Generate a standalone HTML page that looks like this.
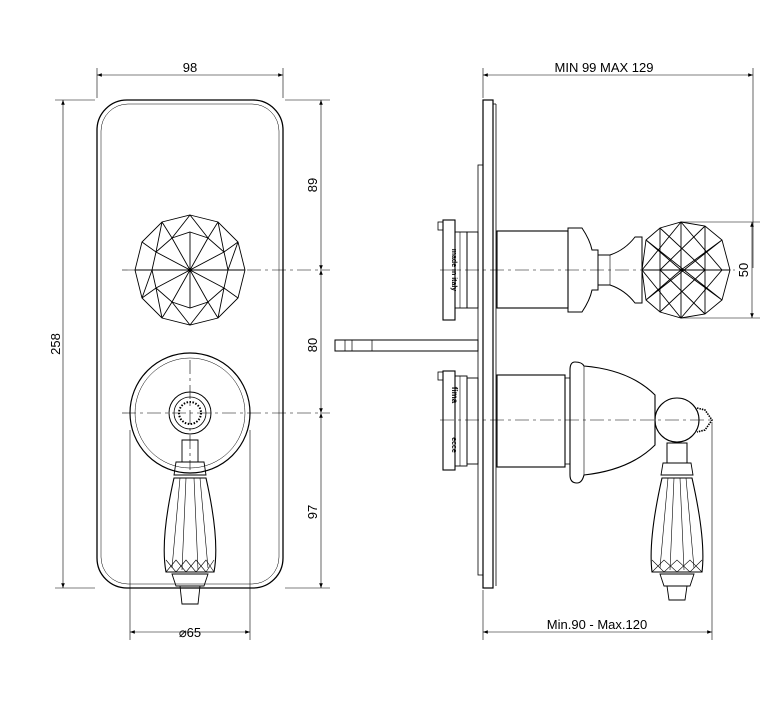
<!DOCTYPE html>
<html><head><meta charset="utf-8"><style>html,body{margin:0;padding:0;background:#fff}svg{display:block}</style></head>
<body>
<svg width="779" height="702" viewBox="0 0 779 702" xmlns="http://www.w3.org/2000/svg" font-family="Liberation Sans, sans-serif" font-size="13" fill="none" stroke="#000" stroke-width="1">
<defs>
<marker id="a" markerWidth="8" markerHeight="6" refX="8" refY="3" orient="auto-start-reverse"><path d="M0,0 L8,3 L0,6" fill="#000" stroke="none"/></marker>
</defs>
<!-- FRONT VIEW -->
<rect x="97" y="100" width="186" height="488" rx="30" stroke-width="1.3"/>
<rect x="101" y="104" width="178" height="480" rx="27" stroke-width="0.5"/>
<!-- top dim 98 -->
<line x1="97" y1="68" x2="97" y2="98" stroke-width="0.6"/><line x1="283" y1="68" x2="283" y2="98" stroke-width="0.6"/>
<line x1="97" y1="75" x2="283" y2="75" stroke-width="0.6" marker-start="url(#a)" marker-end="url(#a)"/>
<text x="190" y="72" fill="#000" stroke="none" text-anchor="middle">98</text>
<!-- left dim 258 -->
<line x1="55" y1="100" x2="95" y2="100" stroke-width="0.6"/><line x1="55" y1="588" x2="95" y2="588" stroke-width="0.6"/>
<line x1="63" y1="100" x2="63" y2="588" stroke-width="0.6" marker-start="url(#a)" marker-end="url(#a)"/>
<text x="0" y="0" fill="#000" stroke="none" text-anchor="middle" transform="translate(60,344) rotate(-90)">258</text>
<!-- right dims -->
<line x1="285" y1="100" x2="330" y2="100" stroke-width="0.6"/><line x1="285" y1="588" x2="330" y2="588" stroke-width="0.6"/>
<line x1="321" y1="100" x2="321" y2="270" stroke-width="0.6" marker-start="url(#a)" marker-end="url(#a)"/>
<line x1="321" y1="270" x2="321" y2="413" stroke-width="0.6" marker-start="url(#a)" marker-end="url(#a)"/>
<line x1="321" y1="413" x2="321" y2="588" stroke-width="0.6" marker-start="url(#a)" marker-end="url(#a)"/>
<text fill="#000" stroke="none" text-anchor="middle" transform="translate(317,185) rotate(-90)">89</text>
<text fill="#000" stroke="none" text-anchor="middle" transform="translate(317,345) rotate(-90)">80</text>
<text fill="#000" stroke="none" text-anchor="middle" transform="translate(317,512) rotate(-90)">97</text>
<!-- centerlines -->
<line x1="122" y1="270" x2="330" y2="270" stroke-width="0.6" stroke-dasharray="14,4,3,4"/>
<line x1="122" y1="413" x2="330" y2="413" stroke-width="0.6" stroke-dasharray="14,4,3,4"/>
<line x1="190" y1="360" x2="190" y2="470" stroke-width="0.6" stroke-dasharray="14,4,3,4"/>
<!-- top knob -->
<g stroke-width="0.9">
<polygon points="190,215 218,222 238,242 245,270 238,298 218,318 190,325 162,318 142,298 135,270 142,242 162,222"/>
<polygon points="190,232 208,238 224,252 228,270 224,288 208,302 190,308 172,302 156,288 152,270 156,252 172,238"/>
<path d="M190,215 L208,238 L218,222 M218,222 L224,252 L238,242 M238,242 L228,270 L245,270 M238,298 L224,288 L218,318 M218,318 L208,302 L190,325 M190,325 L172,302 L162,318 M162,318 L156,288 L142,298 M142,298 L152,270 L135,270 M142,242 L156,252 L162,222 M162,222 L172,238 L190,215"/>
<path d="M190,232 L190,308 M152,270 L228,270 M172,238 L208,302 M208,238 L172,302 M156,252 L224,288 M224,252 L156,288"/>
</g>
<!-- lower rosette -->
<circle cx="190" cy="413" r="60" stroke-width="1.2"/>
<circle cx="190" cy="413" r="55" stroke-width="0.5"/>
<circle cx="190" cy="413" r="21" stroke-width="1"/>
<circle cx="190" cy="413" r="16" stroke-width="0.8"/>
<circle cx="190" cy="413" r="11" stroke-width="2" stroke-dasharray="1.5,1.5"/>
<!-- lever -->
<path d="M182,440 L182,462 L198,462 L198,440 Z" stroke-width="0.9"/>
<path d="M176,462 L204,462 L206,475 L174,475 Z" stroke-width="0.9"/>
<path d="M174,478 Q160,540 166,572 L214,572 Q220,540 206,478 Z" stroke-width="1.1"/>
<path d="M180,478 L172,568 M186,478 L182,570 M194,478 L198,570 M200,478 L208,568" stroke-width="0.6"/>
<path d="M166,560 L176,572 L186,560 L196,572 L206,560 L214,572 M166,572 L176,560 L186,572 L196,560 L206,572 L214,560" stroke-width="0.6"/>
<path d="M172,574 L208,574 L204,586 L176,586 Z M180,586 L200,586 L198,604 L182,604 Z" stroke-width="0.9"/>
<!-- bottom Ø65 -->
<line x1="130" y1="430" x2="130" y2="640" stroke-width="0.6"/><line x1="250" y1="430" x2="250" y2="640" stroke-width="0.6"/>
<line x1="130" y1="632" x2="250" y2="632" stroke-width="0.6" marker-start="url(#a)" marker-end="url(#a)"/>
<text x="190" y="637" fill="#000" stroke="none" text-anchor="middle">⌀65</text>

<!-- SIDE VIEW -->
<rect x="483" y="100" width="10" height="488" stroke-width="1.2"/>
<line x1="493" y1="104" x2="496" y2="104" stroke-width="0.8"/><line x1="496" y1="104" x2="496" y2="586" stroke-width="0.8"/>
<rect x="478" y="165" width="5" height="410" stroke-width="0.8"/>
<!-- top dim -->
<line x1="483" y1="68" x2="483" y2="98" stroke-width="0.6"/><line x1="753" y1="68" x2="753" y2="268" stroke-width="0.6"/>
<line x1="483" y1="75" x2="753" y2="75" stroke-width="0.6" marker-start="url(#a)" marker-end="url(#a)"/>
<text x="604" y="72" fill="#000" stroke="none" text-anchor="middle">MIN 99 MAX 129</text>
<!-- bottom dim -->
<line x1="483" y1="590" x2="483" y2="640" stroke-width="0.6"/><line x1="712" y1="422" x2="712" y2="640" stroke-width="0.6"/>
<line x1="483" y1="632" x2="712" y2="632" stroke-width="0.6" marker-start="url(#a)" marker-end="url(#a)"/>
<text x="597" y="629" fill="#000" stroke="none" text-anchor="middle">Min.90 - Max.120</text>
<!-- 50 dim -->
<line x1="681" y1="222" x2="760" y2="222" stroke-width="0.6"/><line x1="681" y1="318" x2="760" y2="318" stroke-width="0.6"/>
<line x1="752" y1="222" x2="752" y2="318" stroke-width="0.6" marker-start="url(#a)" marker-end="url(#a)"/>
<text fill="#000" stroke="none" text-anchor="middle" transform="translate(748,270) rotate(-90)">50</text>
<!-- centerlines -->
<line x1="440" y1="270" x2="735" y2="270" stroke-width="0.6" stroke-dasharray="14,4,3,4"/>
<line x1="440" y1="420" x2="715" y2="420" stroke-width="0.6" stroke-dasharray="14,4,3,4"/>
<!-- upper unit -->
<rect x="443" y="220" width="12" height="100" stroke-width="1.1"/>
<rect x="438" y="222" width="5" height="8" stroke-width="0.8"/>
<rect x="455" y="232" width="12" height="76" stroke-width="0.9"/>
<line x1="460" y1="232" x2="460" y2="308" stroke-width="0.6"/>
<rect x="467" y="232" width="11" height="76" stroke-width="0.9"/>
<text fill="#000" stroke="none" font-size="7" font-weight="bold" text-anchor="middle" transform="translate(452,270) rotate(90)">made in italy</text>
<rect x="497" y="231" width="71" height="77" stroke-width="1.1"/>
<path d="M568,228 L582,228 Q590,240 592,250 L598,250 L598,290 L592,290 Q590,300 582,312 L568,312 Z" stroke-width="1"/>
<path d="M598,255 L610,255 Q625,250 635,237 L642,237 L642,303 L635,303 Q625,290 610,285 L598,285" stroke-width="1"/>
<line x1="610" y1="255" x2="610" y2="285" stroke-width="0.6"/>
<g stroke-width="0.9">
<path d="M681,222 L705,226 L722,240 L730,270 L722,300 L705,314 L681,318 L660,312 L646,300 L642,270 L646,240 L660,228 Z"/>
<path d="M681,222 L681,318 M660,228 L660,312 M705,226 L705,314 M642,270 L730,270"/>
<path d="M646,240 L681,270 L646,300 M722,240 L681,270 L722,300 M660,228 L705,270 L660,312 M705,226 L660,270 L705,314 M681,222 L722,270 L681,318 M681,222 L642,270 L681,318 M646,240 L722,300 M722,240 L646,300"/>
</g>
<!-- stem -->
<rect x="335" y="340" width="143" height="11" stroke-width="1"/>
<line x1="345" y1="340" x2="345" y2="351" stroke-width="0.7"/><line x1="352" y1="340" x2="352" y2="351" stroke-width="0.7"/><line x1="372" y1="340" x2="372" y2="351" stroke-width="0.7"/>
<!-- lower unit -->
<rect x="443" y="371" width="12" height="99" stroke-width="1.1"/>
<rect x="438" y="372" width="5" height="8" stroke-width="0.8"/>
<rect x="455" y="376" width="12" height="90" stroke-width="0.9"/>
<line x1="460" y1="376" x2="460" y2="466" stroke-width="0.6"/>
<rect x="467" y="378" width="11" height="86" stroke-width="0.9"/>
<text fill="#000" stroke="none" font-size="8" font-weight="bold" text-anchor="middle" transform="translate(452,395) rotate(90)">fima</text>
<text fill="#000" stroke="none" font-size="7" font-weight="bold" text-anchor="middle" transform="translate(452,445) rotate(90)">ecce</text>
<rect x="497" y="375" width="68" height="92" stroke-width="1.1"/>
<rect x="565" y="378" width="5" height="86" stroke-width="0.8"/>
<path d="M575,362 Q570,362 570,370 L570,475 Q570,483 577,483 Q582,483 584,475 Q630,470 655,445 L655,395 Q630,370 584,366 Q582,362 575,362 Z" stroke-width="1.1"/>
<line x1="584" y1="366" x2="584" y2="475" stroke-width="0.6"/>
<circle cx="677" cy="420" r="22" stroke-width="1.1"/>
<path d="M697,408 L705,410 L712,420 L705,430 L697,432" stroke-width="1.6" stroke-dasharray="1.5,1"/>
<rect x="667" y="443" width="20" height="20" stroke-width="1"/>
<path d="M663,463 L691,463 L693,475 L661,475 Z" stroke-width="0.9"/>
<path d="M662,478 Q648,540 652,572 L702,572 Q706,540 692,478 Z" stroke-width="1.1"/>
<path d="M668,478 L660,568 M674,478 L670,570 M680,478 L684,570 M686,478 L694,568" stroke-width="0.6"/>
<path d="M652,560 L664,572 L677,560 L690,572 L702,560 M652,572 L664,560 L677,572 L690,560 L702,572" stroke-width="0.6"/>
<path d="M660,574 L694,574 L690,586 L664,586 Z M667,586 L687,586 L685,600 L669,600 Z" stroke-width="0.9"/>
</svg>
</body></html>
